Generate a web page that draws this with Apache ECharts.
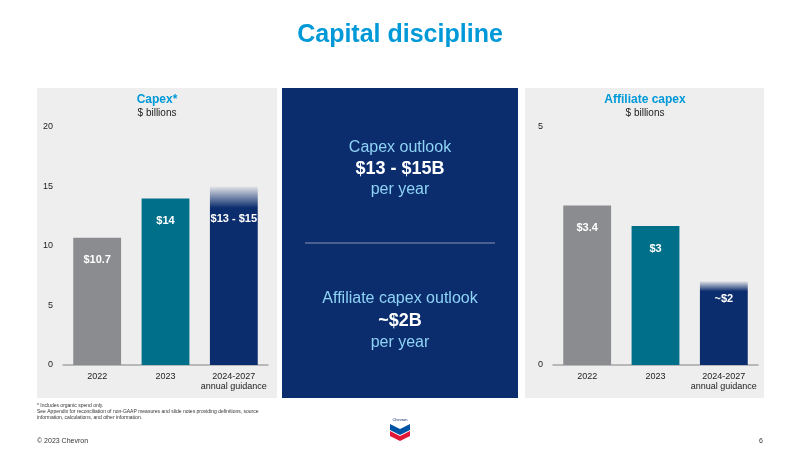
<!DOCTYPE html>
<html><head><meta charset="utf-8">
<script src="https://cdn.jsdelivr.net/npm/echarts@6/dist/echarts.min.js"></script>
<style>html,body{margin:0;padding:0;background:#fff}#c{width:800px;height:450px}</style>
</head><body><div id="c"></div>
<script>
var categories = ['2022', '2023', '2024-2027\nannual guidance'];
var capexValues = [10.7, 14.0, 15.0];
var capexLabels = ['$10.7', '$14', '$13 - $15'];
var affValues = [3.35, 2.92, 1.76];
var affLabels = ['$3.4', '$3', '~$2'];
var capexTicks = [0, 5, 10, 15, 20];
var affTicks = [0, 5];

var F = 'Liberation Sans, Arial, sans-serif';
var colors = ['#8a8c8f', '#00708a', '#0b2d6e'];
function barColor(i, h) {
  if (i < 2) return colors[i];
  return {type:'linear', x:0, y:0, x2:0, y2:1, colorStops:[
    {offset:0, color:'rgba(11,45,110,0.05)'},
    {offset:h, color:'#0b2d6e'},
    {offset:1, color:'#0b2d6e'}]};
}
function mkData(vals, labels, h, lastDist) {
  return vals.map(function(v, i){
    return {value:v, itemStyle:{color:barColor(i, h)},
      label:{formatter:labels[i], distance: i === 2 ? lastDist : 17}};
  });
}
var chart = echarts.init(document.getElementById('c'));
function xAx(gi){return {type:'category', gridIndex:gi, data:categories,
  axisTick:{show:false}, axisLine:{lineStyle:{color:'#a6a6a6', width:1.5}},
  axisLabel:{interval:0, color:'#222', fontSize:9, fontFamily:F, lineHeight:10, margin:7}};}
function yAx(gi,max,ticks){return {type:'value', gridIndex:gi, min:0, max:max, interval:ticks[1]-ticks[0],
  splitLine:{show:false}, axisLine:{show:false}, axisTick:{show:false},
  axisLabel:{color:'#222', fontSize:9, fontFamily:F, margin:10}};}
var lbl = {show:true, position:'insideTop', distance:17, color:'#fff', fontWeight:'bold', fontSize:11, fontFamily:F};
chart.setOption({
  animation:false,
  graphic:[
    {type:'rect', shape:{x:37,y:88,width:240,height:310}, style:{fill:'#eeeeee'}, z:-10},
    {type:'rect', shape:{x:282,y:88,width:236,height:310}, style:{fill:'#0b2d6e'}, z:-10},
    {type:'rect', shape:{x:525,y:88,width:239,height:310}, style:{fill:'#eeeeee'}, z:-10},
    {type:'text', x:400, y:35, style:{text:'Capital discipline', fill:'#0099d8', font:'bold 25px '+F, align:'center', verticalAlign:'middle'}},
    {type:'text', x:157, y:100, style:{text:'Capex*', fill:'#0099d8', font:'bold 12px '+F, align:'center', verticalAlign:'middle'}},
    {type:'text', x:157, y:113, style:{text:'$ billions', fill:'#222', font:'10px '+F, align:'center', verticalAlign:'middle'}},
    {type:'text', x:645, y:100, style:{text:'Affiliate capex', fill:'#0099d8', font:'bold 12px '+F, align:'center', verticalAlign:'middle'}},
    {type:'text', x:645, y:113, style:{text:'$ billions', fill:'#222', font:'10px '+F, align:'center', verticalAlign:'middle'}},
    {type:'text', x:400, y:148, style:{text:'Capex outlook', fill:'#8fd3f5', font:'16px '+F, align:'center', verticalAlign:'middle'}},
    {type:'text', x:400, y:169, style:{text:'$13 - $15B', fill:'#ffffff', font:'bold 18px '+F, align:'center', verticalAlign:'middle'}},
    {type:'text', x:400, y:190, style:{text:'per year', fill:'#8fd3f5', font:'16px '+F, align:'center', verticalAlign:'middle'}},
    {type:'line', shape:{x1:305,y1:243,x2:495,y2:243}, style:{stroke:'#8a93b0', lineWidth:1}},
    {type:'text', x:400, y:299, style:{text:'Affiliate capex outlook', fill:'#8fd3f5', font:'16px '+F, align:'center', verticalAlign:'middle'}},
    {type:'text', x:400, y:321, style:{text:'~$2B', fill:'#ffffff', font:'bold 18px '+F, align:'center', verticalAlign:'middle'}},
    {type:'text', x:400, y:343, style:{text:'per year', fill:'#8fd3f5', font:'16px '+F, align:'center', verticalAlign:'middle'}},
    {type:'text', x:37, y:403, style:{text:'* Includes organic spend only.\nSee Appendix for reconciliation of non-GAAP measures and slide notes providing definitions, source\ninformation, calculations, and other information.', fill:'#333', font:'5px '+F, lineHeight:6}},
    {type:'text', x:37, y:441, style:{text:'© 2023 Chevron', fill:'#333', font:'7px '+F, verticalAlign:'middle'}},
    {type:'text', x:763, y:441, style:{text:'6', fill:'#333', font:'7px '+F, align:'right', verticalAlign:'middle'}},
    {type:'text', x:400, y:420, style:{text:'Chevron', fill:'#0b2d6e', font:'4px '+F, align:'center', verticalAlign:'middle'}},
    {type:'polygon', shape:{points:[[390,424],[400,429],[410,424],[410,430],[400,435],[390,430]]}, style:{fill:'#0054a4'}},
    {type:'polygon', shape:{points:[[390,431],[400,436],[410,431],[410,436],[400,441],[390,436]]}, style:{fill:'#e21836'}}
  ],
  grid:[
    {left:63, right:532, top:127, bottom:85},
    {left:553, right:42, top:127, bottom:85}
  ],
  xAxis:[xAx(0), xAx(1)],
  yAxis:[yAx(0,20,capexTicks), yAx(1,5,affTicks)],
  series:[
    {type:'bar', xAxisIndex:0, yAxisIndex:0, barWidth:'70%', data:mkData(capexValues, capexLabels, 0.12, 27), label:lbl},
    {type:'bar', xAxisIndex:1, yAxisIndex:1, barWidth:'70%', data:mkData(affValues, affLabels, 0.12, 12), label:lbl}
  ]
});
</script></body></html>
